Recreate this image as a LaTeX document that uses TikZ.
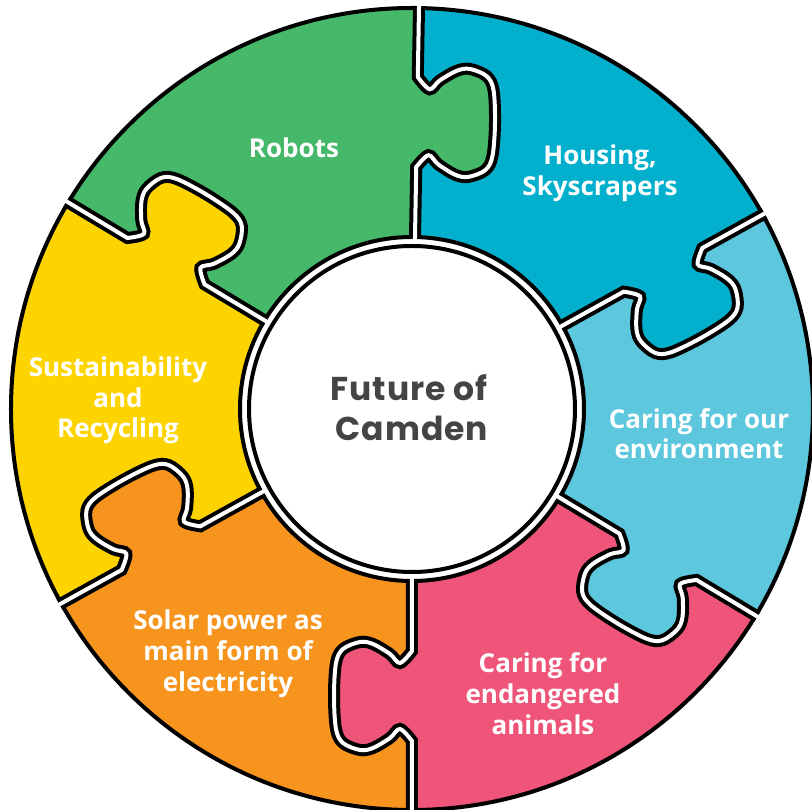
\documentclass[tikz,border=0pt]{standalone}
\usepackage{fontspec}
\setmainfont{Open Sans}
\newfontfamily\ctrfont{Poppins}[LetterSpace=3]
\usetikzlibrary{calc}
\definecolor{cgreen}{HTML}{45B869}
\definecolor{cblue}{HTML}{02AFCD}
\definecolor{clblue}{HTML}{5DC7DD}
\definecolor{cpink}{HTML}{EF5579}
\definecolor{corange}{HTML}{F7941E}
\definecolor{cyellow}{HTML}{FDD300}
\definecolor{ctext}{HTML}{444444}
\newcommand\sectorfill[3]{\fill[#1] (#2:172) arc[start angle=#2,end angle=#3,radius=172pt] -- (#3:401) arc[start angle=#3,end angle=#2,radius=401pt] -- cycle;}
\newcommand\knobfill[2]{\begin{scope}[rotate=#2]\fill[#1] plot[smooth,tension=.55] coordinates {(242,0) (254,-12) (245,-22) (235,-39) (233,-52) (240,-69) (254,-76) (287,-78) (320,-76) (334,-69) (341,-52) (339,-39) (329,-22) (320,-12) (332,0)} -- (336,4) -- (238,4) -- cycle;\end{scope}}
\begin{document}
\begin{tikzpicture}[x=1pt,y=1pt,
  lbl/.style={text=white,font=\bfseries\fontsize{26}{31}\selectfont,inner sep=0pt,anchor=base},
  ctr/.style={text=ctext,font=\ctrfont\bfseries\fontsize{33}{40}\selectfont,inner sep=0pt,anchor=base}]
\useasboundingbox (-412,-401) rectangle (400,409);
% pieces
\sectorfill{cblue}{29}{89}
\sectorfill{cgreen}{89}{149}
\sectorfill{cyellow}{149}{209}
\sectorfill{corange}{209}{270}
\sectorfill{cpink}{270}{329}
\sectorfill{clblue}{329}{389}
% knobs (belong to the counter-clockwise piece)
\knobfill{cblue}{29}
\knobfill{cgreen}{89}
\knobfill{cyellow}{149}
\knobfill{corange}{209}
\knobfill{cpink}{270}
\knobfill{clblue}{329}
% black edges of the pieces
\foreach \a in {29,89,149,209,270,329}{
  \begin{scope}[rotate=\a]
  \draw[line width=12pt,black] (168,0) -- plot[smooth,tension=.55] coordinates {(242,0) (254,-12) (245,-22) (235,-39) (233,-52) (240,-69) (254,-76) (287,-78) (320,-76) (334,-69) (341,-52) (339,-39) (329,-22) (320,-12) (332,0)} -- (403,0);
  \end{scope}}
\draw[line width=4pt,black] (0,0) circle[radius=401pt];
\fill[white] (0,0) circle[radius=170pt];
\draw[line width=4pt,black] (0,0) circle[radius=172pt];
% white gaps between pieces
\foreach \a in {29,89,149,209,270,329}{
  \begin{scope}[rotate=\a]
  \draw[line width=4pt,white] (166,0) -- plot[smooth,tension=.55] coordinates {(242,0) (254,-12) (245,-22) (235,-39) (233,-52) (240,-69) (254,-76) (287,-78) (320,-76) (334,-69) (341,-52) (339,-39) (329,-22) (320,-12) (332,0)} -- (406,0);
  \end{scope}}
% centre
\fill[white] (0,0) circle[radius=163pt];
\draw[line width=4pt,black] (0,0) circle[radius=163pt];
\node[ctr] (fut1) at (-3,8) {Future of};
\node[ctr] (fut2) at (0,-32) {Camden};
% labels
\node[lbl] (robots) at (-118,251) {Robots};
\node[lbl] (hous1) at (188,244) {Housing,};
\node[lbl] (hous2) at (188,213) {Skyscrapers};
\node[lbl] (sust1) at (-294,32) {Sustainability};
\node[lbl] (sust2) at (-294,1) {and};
\node[lbl] (sust3) at (-294,-29) {Recycling};
\node[lbl] (env1) at (287,-20) {Caring for our};
\node[lbl] (env2) at (287,-50) {environment};
\node[lbl] (sol1) at (-184,-221) {Solar power as};
\node[lbl] (sol2) at (-184,-252) {main form of};
\node[lbl] (sol3) at (-184,-283) {electricity};
\node[lbl] (ani1) at (131,-264) {Caring for};
\node[lbl] (ani2) at (131,-295) {endangered};
\node[lbl] (ani3) at (131,-326) {animals};
\end{tikzpicture}
\end{document}
